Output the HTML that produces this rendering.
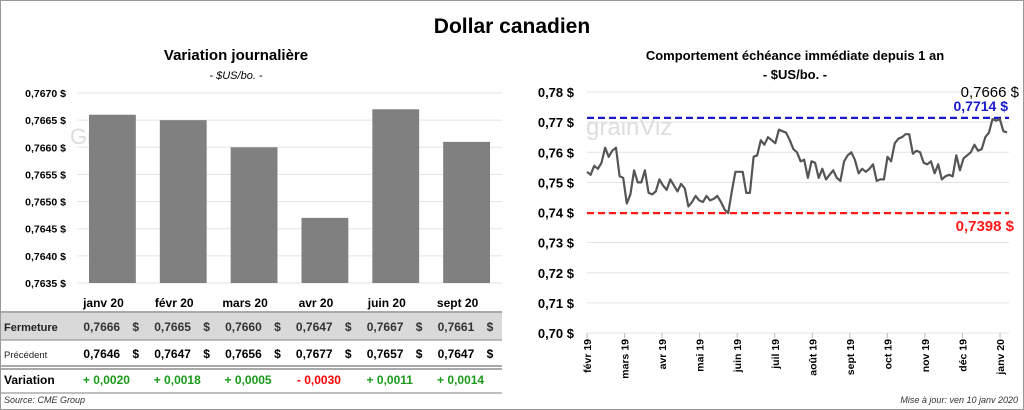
<!DOCTYPE html>
<html><head><meta charset="utf-8"><style>
body{margin:0;width:1024px;height:410px;background:#fff;font-family:"Liberation Sans",sans-serif;overflow:hidden}
svg{display:block}
</style></head><body>
<svg width="1024" height="410" font-family="Liberation Sans, sans-serif">
<rect x="0.5" y="0.5" width="1023" height="409" fill="#fff" stroke="#999"/>
<text x="512" y="33" text-anchor="middle" font-size="21" font-weight="bold">Dollar canadien</text>
<text x="236" y="60" text-anchor="middle" font-size="15" font-weight="bold">Variation  journalière</text>
<text x="236" y="79" text-anchor="middle" font-size="11" font-style="italic">- $US/bo. -</text>
<text x="795" y="60" text-anchor="middle" font-size="13" font-weight="bold">Comportement échéance immédiate depuis 1 an</text>
<text x="795" y="79" text-anchor="middle" font-size="13" font-weight="bold">- $US/bo. -</text>
<g id="left"></g>
<g id="table"></g>
<g id="right"></g>
<text x="4" y="403" font-size="9" font-style="italic" fill="#333">Source: CME Group</text>
<text x="1018" y="403" text-anchor="end" font-size="9" font-style="italic" fill="#333">Mise à jour: ven 10 janv 2020</text>
</svg>
<script>
const barCats=["janv 20","févr 20","mars 20","avr 20","juin 20","sept 20"];
const barVals=[0.7666,0.7665,0.7660,0.7647,0.7667,0.7661];
const prevVals=[0.7646,0.7647,0.7656,0.7677,0.7657,0.7647];
const varLabels=["+ 0,0020","+ 0,0018","+ 0,0005","- 0,0030","+ 0,0011","+ 0,0014"];
const barTicks=[0.7670,0.7665,0.7660,0.7655,0.7650,0.7645,0.7640,0.7635];
const lineVals=[0.7535,0.7525,0.7555,0.7545,0.7565,0.7615,0.7585,0.7605,0.7615,0.7520,0.7515,0.7430,0.7460,0.7540,0.7500,0.7500,0.7540,0.7465,0.7460,0.7470,0.7510,0.7490,0.7475,0.7510,0.7490,0.7470,0.7495,0.7480,0.7420,0.7435,0.7455,0.7440,0.7435,0.7455,0.7440,0.7445,0.7455,0.7435,0.7410,0.7398,0.7470,0.7535,0.7535,0.7535,0.7465,0.7465,0.7585,0.7590,0.7640,0.7625,0.7650,0.7640,0.7630,0.7675,0.7670,0.7665,0.7640,0.7610,0.7600,0.7570,0.7575,0.7515,0.7570,0.7565,0.7515,0.7545,0.7510,0.7525,0.7540,0.7515,0.7505,0.7570,0.7590,0.7600,0.7575,0.7530,0.7545,0.7535,0.7545,0.7560,0.7505,0.7510,0.7510,0.7585,0.7570,0.7630,0.7645,0.7650,0.7660,0.7660,0.7595,0.7605,0.7600,0.7565,0.7560,0.7570,0.7530,0.7560,0.7510,0.7520,0.7525,0.7520,0.7590,0.7540,0.7580,0.7590,0.7600,0.7625,0.7605,0.7610,0.7650,0.7665,0.7710,0.7705,0.7710,0.7670,0.7666];
const lineTicks=[0.78,0.77,0.76,0.75,0.74,0.73,0.72,0.71,0.70];
const monthLabels=["févr 19","mars 19","avr 19","mai 19","juin 19","juil 19","août 19","sept 19","oct 19","nov 19","déc 19","janv 20"];
const maxVal=0.7714, minVal=0.7398, lastVal=0.7666;

const NS="http://www.w3.org/2000/svg";
function mk(p,t,a,txt){const e=document.createElementNS(NS,t);for(const k in a)e.setAttribute(k,a[k]);if(txt!==undefined)e.textContent=txt;p.appendChild(e);return e;}
const fmt=(v,d)=>v.toFixed(d).replace('.',',');

const L=document.getElementById('left');
const lx0=77,lx1=502,ly0=93,ly1=283,lmin=0.7635,lmax=0.7670;
const ly=v=>ly1-(v-lmin)/(lmax-lmin)*(ly1-ly0);
const bw=(lx1-lx0)/barCats.length;
barTicks.forEach(t=>{
  const g=mk(L,'line',{x1:lx0,x2:lx1,y1:ly(t),y2:ly(t),stroke:'#e3e3e3','stroke-width':1});
  
  const tx=mk(L,'text',{x:66,y:ly(t)+4,'text-anchor':'end','font-size':10.5,'font-weight':'bold'},fmt(t,4)+' $');
  
});
const wm=mk(L,'text',{x:70,y:144,'font-size':22,fill:'#ddd'},'Grain');

barVals.forEach((v,i)=>{
  const x=lx0+i*bw+12;
  const r=mk(L,'rect',{x:x,y:ly(v),width:bw-24,height:ly1-ly(v),fill:'#808080'});
  
});

const T=document.getElementById('table');
const colC=i=>lx0+i*bw+bw/2;
const rf=mk(T,'rect',{x:1,y:313,width:501,height:27,fill:'#d9d9d9'});

[[1,312,502,312,'#777'],[1,340,502,340,'#999'],[1,366,502,366,'#777'],[1,369,502,369,'#777'],[1,393,502,393,'#999']].forEach(a=>{
  const l=mk(T,'line',{x1:a[0],y1:a[1],x2:a[2],y2:a[3],stroke:a[4],'stroke-width':1.2});
  
});
[['Fermeture',331,11,'bold','#222'],['Précédent',358,9.5,'normal','#222'],['Variation',384,12,'bold','#000']].forEach(r=>{
  const t=mk(T,'text',{x:4,y:r[1],'font-size':r[2],'font-weight':r[3],fill:r[4]},r[0]);
  
});
barCats.forEach((c,i)=>{
  const cx=colC(i);
  const h=mk(T,'text',{x:cx-9,y:307,'text-anchor':'middle','font-size':12,'font-weight':'bold'},c);
  
  const f=mk(T,'text',{x:cx-29,y:331,'font-size':12,'font-weight':'bold',fill:'#333'},fmt(barVals[i],4));
  
  const fd=mk(T,'text',{x:cx+20,y:331,'font-size':12,'font-weight':'bold',fill:'#333'},'$');
  
  const p=mk(T,'text',{x:cx-29,y:358,'font-size':12,'font-weight':'bold'},fmt(prevVals[i],4));
  
  const pd=mk(T,'text',{x:cx+20,y:358,'font-size':12,'font-weight':'bold'},'$');
  
  const neg=varLabels[i].startsWith('-');
  const vv=mk(T,'text',{x:cx-6,y:384,'text-anchor':'middle','font-size':12,'font-weight':'bold',fill:neg?'#ff0000':'#1a9a1a'},varLabels[i]);
  
});

const R=document.getElementById('right');
const rx0=587,rx1=1009,ry0=92,ry1=333,rmin=0.70,rmax=0.78;
const ry=v=>ry1-(v-rmin)/(rmax-rmin)*(ry1-ry0);
const mw=37.55;
lineTicks.forEach(t=>{
  const g=mk(R,'line',{x1:rx0,x2:rx1,y1:ry(t),y2:ry(t),stroke:'#e3e3e3','stroke-width':1});
  
  const tx=mk(R,'text',{x:574,y:ry(t)+5,'text-anchor':'end','font-size':13,'font-weight':'bold'},fmt(t,2)+' $');
  
});
monthLabels.forEach((m,i)=>{
  const x=rx0+i*mw;
  const tk=mk(R,'line',{x1:x,x2:x,y1:ry1,y2:ry1+5,stroke:'#bbb'});
  
  const t=mk(R,'text',{transform:`translate(${x+4},${ry1+6}) rotate(-90)`,'text-anchor':'end','font-size':10.5,'font-weight':'bold'},m);
  
});
const wm2=mk(R,'text',{x:586,y:135,'font-size':24,fill:'#ddd'},'grainViz');

const mxl=mk(R,'line',{x1:rx0,x2:rx1,y1:ry(maxVal),y2:ry(maxVal),stroke:'#1a1acc','stroke-width':2.2,'stroke-dasharray':'7,4'});

const mnl=mk(R,'line',{x1:rx0,x2:rx1,y1:ry(minVal),y2:ry(minVal),stroke:'#ff1a1a','stroke-width':2.2,'stroke-dasharray':'7,4'});

const step=(rx1-2-rx0)/(lineVals.length-1);
const d=lineVals.map((v,i)=>(i?'L':'M')+(rx0+i*step).toFixed(1)+','+ry(v).toFixed(1)).join(' ');
const pl=mk(R,'path',{d:d,fill:'none',stroke:'#555','stroke-width':2.2,'stroke-linejoin':'round'});

const a1=mk(R,'text',{x:1019,y:97,'text-anchor':'end','font-size':15},fmt(lastVal,4)+' $');

const a2=mk(R,'text',{x:1008,y:111,'text-anchor':'end','font-size':14,'font-weight':'bold',fill:'#1a1acc'},fmt(maxVal,4)+' $');

const a3=mk(R,'text',{x:1014,y:231,'text-anchor':'end','font-size':15,'font-weight':'bold',fill:'#ff1a1a'},fmt(minVal,4)+' $');

</script>
</body></html>
